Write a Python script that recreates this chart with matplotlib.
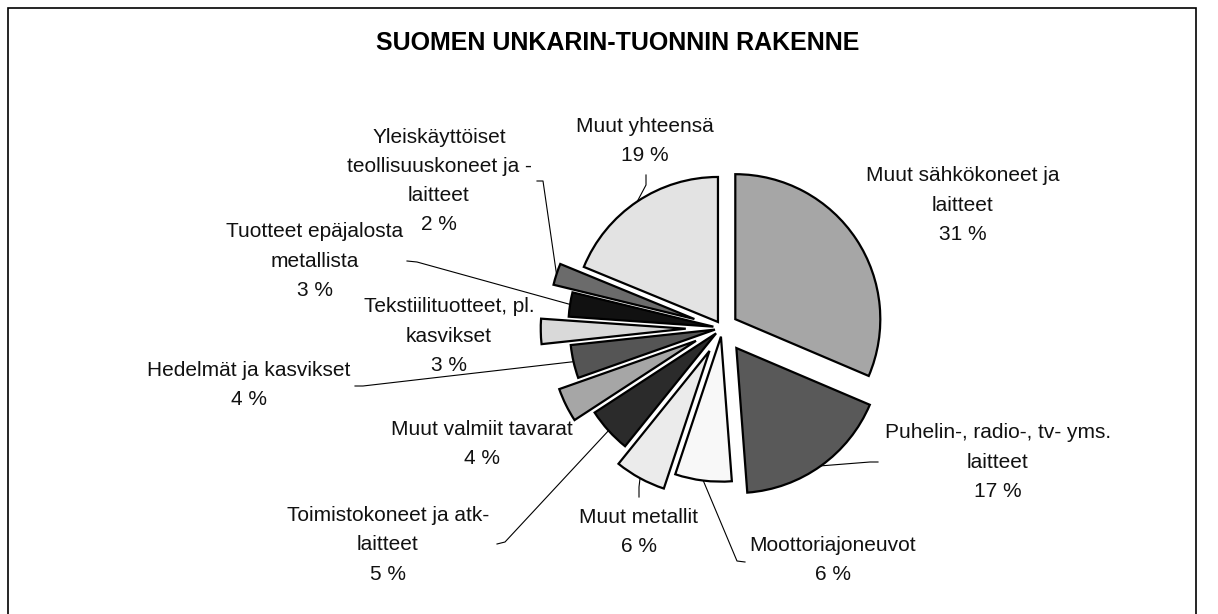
import matplotlib
matplotlib.use("Agg")
import matplotlib.pyplot as plt
from matplotlib.patches import Rectangle
import numpy as np

plt.rcParams['font.family'] = ['Liberation Sans', 'DejaVu Sans']

# ---- data ----
categories = [
    "Muut sähkökoneet ja\nlaitteet",
    "Puhelin-, radio-, tv- yms.\nlaitteet",
    "Moottoriajoneuvot",
    "Muut metallit",
    "Toimistokoneet ja atk-\nlaitteet",
    "Muut valmiit tavarat",
    "Hedelmät ja kasvikset",
    "Tekstiilituotteet, pl.\nkasvikset",
    "Tuotteet epäjalosta\nmetallista",
    "Yleiskäyttöiset\nteollisuuskoneet ja -\nlaitteet",
    "Muut yhteensä",
]
shares = [31.4, 17.4, 6.3, 5.7, 5.0, 3.8, 3.7, 2.8, 2.7, 2.4, 18.8]
title = "SUOMEN UNKARIN-TUONNIN RAKENNE"

# ---- styles / layout ----
colors = ["#A6A6A6", "#595959", "#F8F8F8", "#EBEBEB", "#2B2B2B", "#A6A6A6",
          "#555555", "#D9D9D9", "#111111", "#6B6B6B", "#E3E3E3"]
explode = [0.11, 0.17, 0.06, 0.18, 0.055, 0.20, 0.05, 0.25, 0.06, 0.20, 0.05]

W, H = 1218, 614
R_PX = 145.0          # pie radius in pixels
CX, CY = 722.0, 328.0  # pie centre in pixels (from top-left)

def px(x, y):
    return ((x - CX) / R_PX, (CY - y) / R_PX)

# label block centres (pixels) and leader anchor points at the label side (None = no leader)
label_pos = [(963, 205), (998, 462), (833, 560), (639, 532), (388, 545),
             (482, 444), (249, 385), (449, 336), (315, 261), (439, 181), (645, 141)]
leader_anchor = [None, [(878, 462), (870, 462)], [(745, 562), (737, 561)],
                 [(639, 497), (639, 487)], [(497, 544), (505, 542)], None,
                 [(355, 386), (363, 386)], None, [(407, 261), (417, 262)],
                 [(537, 181), (543, 181)], [(646, 175), (646, 185)]]

fig = plt.figure(figsize=(W / 100, H / 100), dpi=100)
ax = fig.add_axes([0, 0, 1, 1])

wedges, _ = ax.pie(shares, colors=colors, explode=explode, startangle=90,
                   counterclock=False, radius=1.0,
                   wedgeprops=dict(edgecolor="black", linewidth=1.6))

ax.set_xlim(-CX / R_PX, (W - CX) / R_PX)
ax.set_ylim((CY - H) / R_PX, CY / R_PX)
ax.set_axis_off()

for i, (w, name, v) in enumerate(zip(wedges, categories, shares)):
    lx, ly = px(*label_pos[i])
    ax.text(lx, ly, f"{name}\n{round(v)} %", ha="center", va="center",
            multialignment="center", fontsize=15, linespacing=1.67, color="#111111")
    if leader_anchor[i] is not None:
        mid = np.deg2rad((w.theta1 + w.theta2) / 2)
        ex = w.center[0] + w.r * np.cos(mid)
        ey = w.center[1] + w.r * np.sin(mid)
        pts = [px(*p) for p in leader_anchor[i]] + [(ex, ey)]
        xs, ys = zip(*pts)
        ax.plot(xs, ys, color="black", linewidth=0.8, zorder=0)

fig.text(618 / W, 1 - 43 / H, title, ha="center", va="center",
         fontsize=18, fontweight="bold")

fig.add_artist(Rectangle((8 / W, -0.01), (1196 - 8) / W, 1 - 8 / H + 0.01,
                         transform=fig.transFigure, fill=False,
                         edgecolor="black", linewidth=1.2))

fig.savefig("out.png", dpi=100)
